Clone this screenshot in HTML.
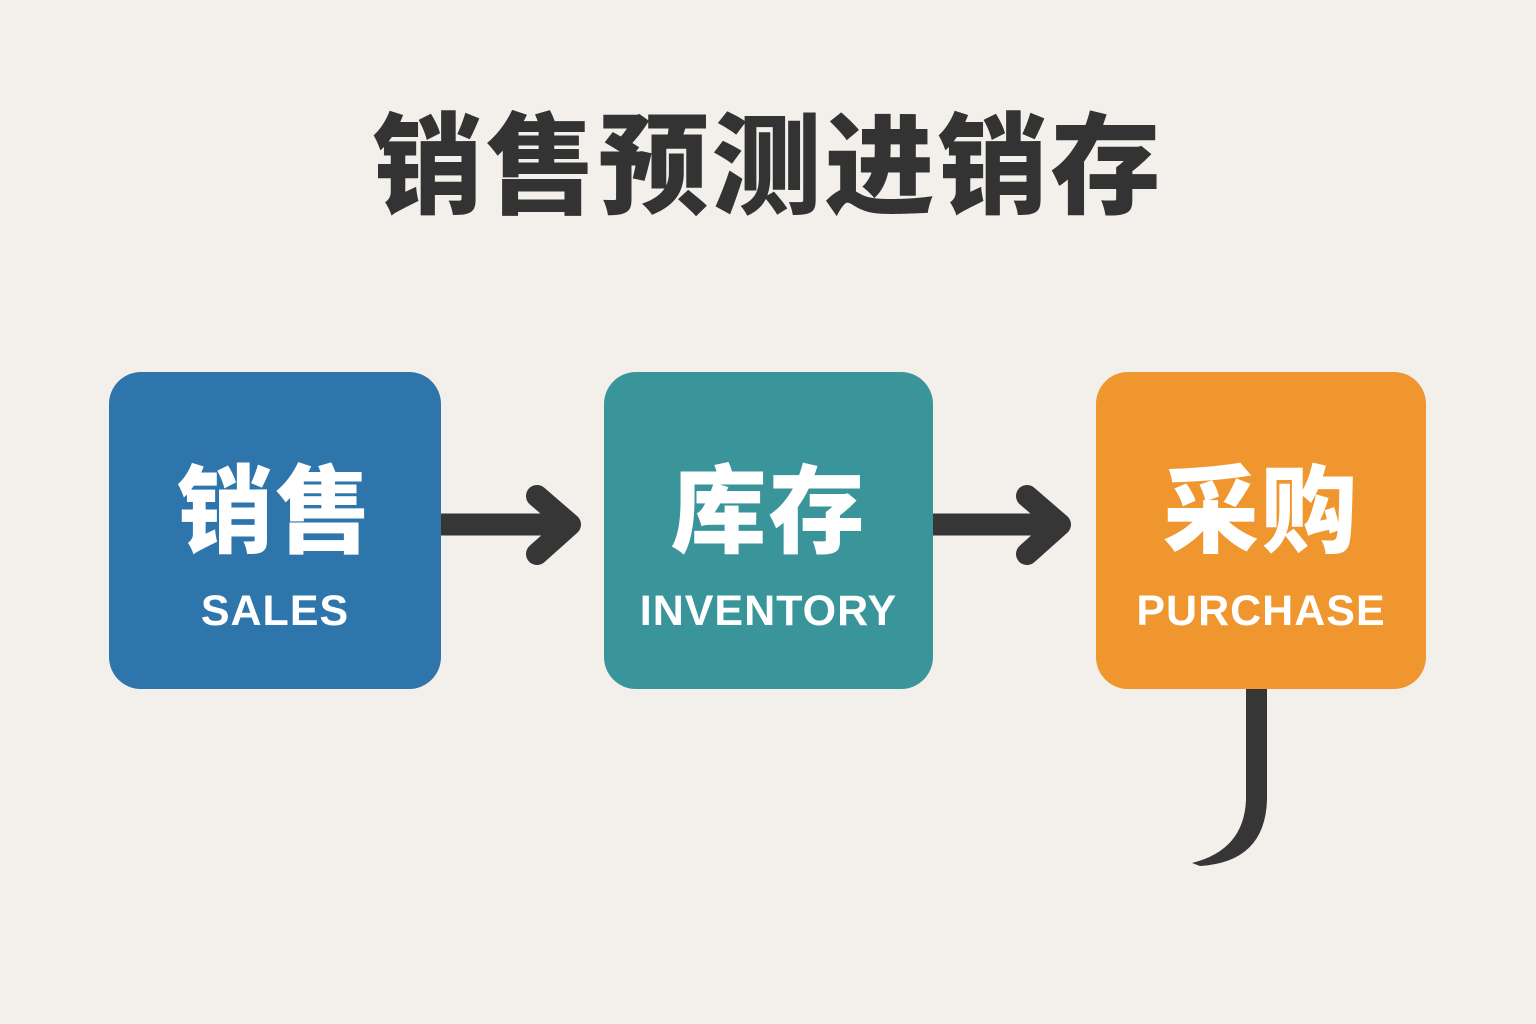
<!DOCTYPE html>
<html><head><meta charset="utf-8"><style>
body{margin:0;width:1536px;height:1024px;background:#f3f0ec;position:relative;overflow:hidden;font-family:"Liberation Sans","Noto Sans CJK SC",sans-serif}
.t{position:absolute;left:0;width:1536px;top:105px;text-align:center;font-size:110px;font-weight:900;color:#333;letter-spacing:3px;line-height:125px}
.b{position:absolute;top:372px;height:317px;border-radius:32px;color:#fff;text-align:center}
.c{position:absolute;left:0;right:0;top:86px;font-size:96px;font-weight:900;line-height:110px;letter-spacing:2px}
.e{position:absolute;left:0;right:0;top:214px;font-size:43px;font-weight:bold;line-height:50px;letter-spacing:1px}
svg{position:absolute;left:0;top:0}
</style></head><body>
<div class="t">销售预测进销存</div>
<div class="b" style="left:109px;width:332px;background:#2e75ab"><div class="c">销售</div><div class="e">SALES</div></div>
<div class="b" style="left:604px;width:329px;background:#3a959b"><div class="c">库存</div><div class="e">INVENTORY</div></div>
<div class="b" style="left:1096px;width:330px;background:#f0962f"><div class="c">采购</div><div class="e">PURCHASE</div></div>
<svg width="1536" height="1024">
<g stroke="#363636" fill="none" stroke-width="22">
<line x1="441" y1="524.5" x2="570" y2="524.5"/>
<polyline points="537,496 570,524.5 537,554" stroke-linecap="round" stroke-linejoin="round"/>
<line x1="933" y1="524.5" x2="1060" y2="524.5"/>
<polyline points="1027,496 1060,524.5 1027,554" stroke-linecap="round" stroke-linejoin="round"/>
</g>
<path d="M1246 689 H1267 V800 Q1265 862 1200 866 L1192 863 Q1244 850 1246 800 Z" fill="#363636"/>
</svg>
</body></html>
